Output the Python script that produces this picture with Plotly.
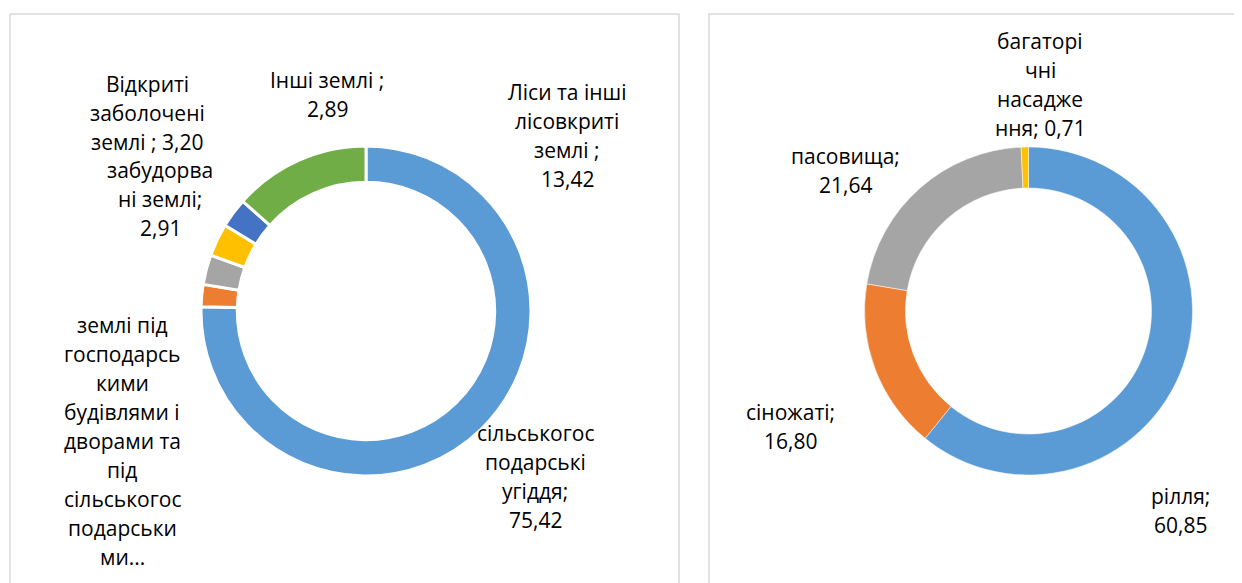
import plotly.graph_objects as go

# the page body keeps its default 8px margin, so the figure is 8px smaller
# and every reference pixel position is shifted back by that offset
OFF = 8
W, H = 1242 - OFF, 583 - OFF

# left donut: structure of the land fund, %
land_categories = [
    "сільськогосподарські угіддя",
    "землі під господарськими будівлями і дворами та під сільськогосподарськими...",
    "забудорвані землі",
    "Відкриті заболочені землі",
    "Інші землі",
    "Ліси та інші лісовкриті землі",
]
land_values = [75.42, 2.16, 2.91, 3.20, 2.89, 13.42]
land_colors = ["#5B9BD5", "#ED7D31", "#A5A5A5", "#FFC000", "#4472C4", "#70AD47"]

# right donut: structure of agricultural land, %
agri_categories = ["рілля", "сіножаті", "пасовища", "багаторічні насадження"]
agri_values = [60.85, 16.80, 21.64, 0.71]
agri_colors = ["#5B9BD5", "#ED7D31", "#A5A5A5", "#FFC000"]

# wrapped data labels as they appear in the chart ({v} = value)
land_label_lines = [
    ["сільськогос", "подарські", "угіддя;", "{v}"],
    ["землі під", "господарсь", "кими", "будівлями і", "дворами та", "під",
     "сільськогос", "подарськи", "ми..."],
    ["забудорва", "ні землі;", "{v}"],
    ["Відкриті", "заболочені", "землі ; {v}"],
    ["Інші землі ;", "{v}"],
    ["Ліси та інші", "лісовкриті", "землі ;", "{v}"],
]
agri_label_lines = [
    ["рілля;", "{v}"],
    ["сіножаті;", "{v}"],
    ["пасовища;", "{v}"],
    ["багаторі", "чні", "насадже", "ння; {v}"],
]

# label anchor (centre x, first line y) in reference pixels
land_label_pos = [(535, 433), (122, 325), (160, 170), (147, 84), (327, 80), (567, 92)]
agri_label_pos = [(1180, 496), (790, 412), (845, 156), (1040, 41)]


def fmt(v):
    return f"{v:.2f}".replace(".", ",")


def px(x):
    return (x - OFF) / W


def py(y):
    return 1 - (y - OFF) / H


fig = go.Figure()

fig.add_trace(go.Pie(
    labels=land_categories, values=land_values,
    hole=0.78, sort=False, direction="clockwise", rotation=0,
    marker=dict(colors=land_colors, line=dict(color="white", width=3)),
    textinfo="none", hoverinfo="label+value",
    domain=dict(x=[px(201), px(531)], y=[py(476), py(146)]),
))

fig.add_trace(go.Pie(
    labels=agri_categories, values=agri_values,
    hole=0.75, sort=False, direction="clockwise", rotation=0,
    marker=dict(colors=agri_colors, line=dict(color="white", width=0.5)),
    textinfo="none", hoverinfo="label+value",
    domain=dict(x=[px(864.5), px(1192.5)], y=[py(475), py(147)]),
))


def add_label(lines, value, pos, step=29):
    cx, cy = pos
    for i, line in enumerate(lines):
        fig.add_annotation(
            x=px(cx), y=py(cy + i * step), xref="paper", yref="paper",
            text=line.replace("{v}", fmt(value)), showarrow=False,
            xanchor="center", yanchor="middle",
            font=dict(family="Open Sans, sans-serif", size=21, color="#000000"),
        )


for lines, v, p in zip(land_label_lines, land_values, land_label_pos):
    add_label(lines, v, p)
for lines, v, p in zip(agri_label_lines, agri_values, agri_label_pos):
    add_label(lines, v, p)

# panel frames (cut off at the bottom of the picture)
fig.add_shape(type="rect", xref="paper", yref="paper",
              x0=px(10), x1=px(679), y0=py(620), y1=py(14),
              line=dict(color="#d9d9d9", width=1.5))
fig.add_shape(type="rect", xref="paper", yref="paper",
              x0=px(709), x1=px(1240), y0=py(620), y1=py(14),
              line=dict(color="#d9d9d9", width=1.5))

fig.update_layout(
    width=W, height=H,
    margin=dict(l=0, r=0, t=0, b=0),
    showlegend=False,
    paper_bgcolor="white", plot_bgcolor="white",
)

fig.write_html("out.html")
